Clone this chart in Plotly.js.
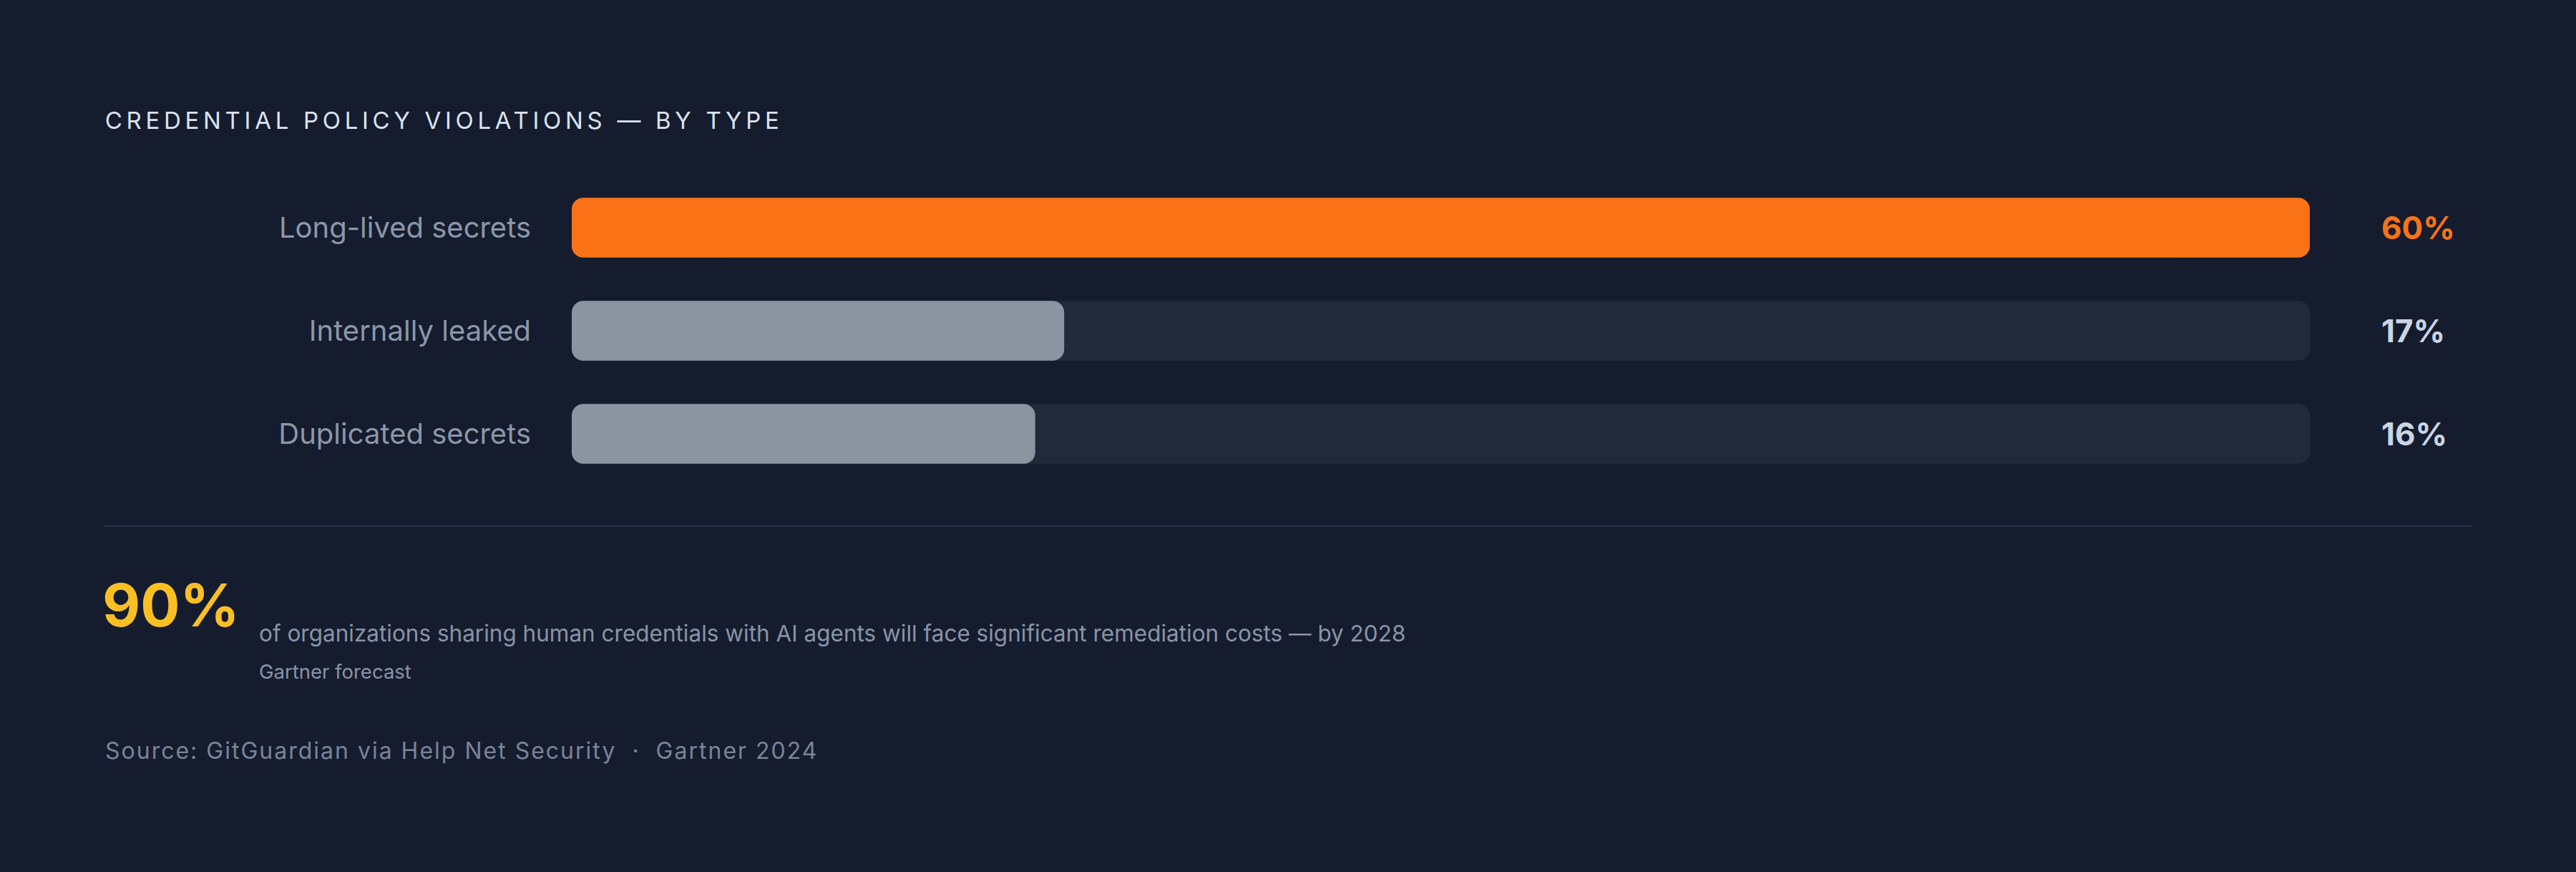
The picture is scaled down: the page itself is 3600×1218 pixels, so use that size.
<!DOCTYPE html>
<html>
<head>
<meta charset="utf-8">
<script src="https://cdn.plot.ly/plotly-3.0.1.min.js"></script>
<style>
  html, body { margin: 0; padding: 0; background: #141c2e; }
  #chart { width: 3600px; height: 1218px; }
  /* tracked caps for the title and the source line */
  .annotation[data-index="0"] text { letter-spacing: 5.7px; }
  .annotation[data-index="7"] text { letter-spacing: 2px; }
</style>
</head>
<body>
<div id="chart"></div>
<script>
var categories = ['Long-lived secrets', 'Internally leaked', 'Duplicated secrets'];
var shares = [60, 17, 16];
var valueLabels = ['60%', '17%', '16%'];
var barColors = ['#f97316', '#8b95a1', '#8b95a1'];
var labelColors = ['#f97316', '#cbd5e1', '#cbd5e1'];
var trackMax = 60;

var calloutValue = '90%';
var calloutText = 'of organizations sharing human credentials with AI agents will face significant remediation costs — by 2028';
var calloutNote = 'Gartner forecast';
var chartTitle = 'CREDENTIAL POLICY VIOLATIONS — BY TYPE';
var sourceText = 'Source: GitGuardian via Help Net Security  ·  Gartner 2024';

var W = 3600;
var H = 1218;
var font = 'Inter, "Noto Sans", sans-serif';

function px(x) { return x / W; }
function py(y) { return 1 - y / H; }

// an explicit base makes plotly round both ends of the bar
var zeroBase = categories.map(function () { return 0; });

var track = {
  type: 'bar',
  orientation: 'h',
  y: categories,
  x: categories.map(function () { return trackMax; }),
  base: zeroBase,
  width: 0.58,
  marker: { color: '#212a3b', cornerradius: 16 },
  hoverinfo: 'skip',
  showlegend: false
};

var values = {
  type: 'bar',
  orientation: 'h',
  y: categories,
  x: shares,
  base: zeroBase,
  width: 0.58,
  marker: { color: barColors, cornerradius: 16 },
  hoverinfo: 'skip',
  showlegend: false
};

var annotations = [
  {
    // x nudged right by half the extra width the css tracking adds
    text: chartTitle, xref: 'paper', yref: 'paper',
    x: px(145 + chartTitle.length * 5.7 / 2), y: py(168), xanchor: 'left', yanchor: 'middle', showarrow: false,
    font: { family: font, size: 33, color: '#dbe3ee' }
  }
];

categories.forEach(function (c, i) {
  annotations.push({
    text: '<b>' + valueLabels[i] + '</b>', xref: 'paper', yref: 'y',
    x: px(3326), y: c, xanchor: 'left', yanchor: 'middle', showarrow: false,
    font: { family: font, size: 44, color: labelColors[i] }
  });
});

annotations.push(
  {
    text: '<b>' + calloutValue + '</b>', xref: 'paper', yref: 'paper',
    x: px(141), y: py(897), xanchor: 'left', yanchor: 'bottom', showarrow: false,
    font: { family: font, size: 82, color: '#fbbf24' }
  },
  {
    text: calloutText, xref: 'paper', yref: 'paper',
    x: px(360), y: py(884), xanchor: 'left', yanchor: 'middle', showarrow: false,
    font: { family: font, size: 31.5, color: '#8a94a6' }
  },
  {
    text: calloutNote, xref: 'paper', yref: 'paper',
    x: px(360), y: py(938), xanchor: 'left', yanchor: 'middle', showarrow: false,
    font: { family: font, size: 27.5, color: '#8a94a6' }
  },
  {
    text: sourceText, xref: 'paper', yref: 'paper',
    x: px(145 + sourceText.length * 2 / 2), y: py(1048), xanchor: 'left', yanchor: 'middle', showarrow: false,
    font: { family: font, size: 32, color: '#7a8497' }
  }
);

var layout = {
  width: W,
  height: H,
  margin: { l: 0, r: 0, t: 0, b: 0, pad: 0 },
  paper_bgcolor: '#141c2e',
  plot_bgcolor: 'rgba(0,0,0,0)',
  barmode: 'overlay',
  font: { family: font },
  xaxis: {
    domain: [px(799), px(3228)],
    range: [0, trackMax],
    visible: false,
    fixedrange: true
  },
  yaxis: {
    domain: [py(678), py(246)],
    autorange: 'reversed',
    showgrid: false,
    zeroline: false,
    showline: false,
    ticks: '',
    ticklabelstandoff: 56,
    tickfont: { family: font, size: 40, color: '#8c97a8' },
    fixedrange: true
  },
  shapes: [
    {
      type: 'line', xref: 'paper', yref: 'paper',
      x0: px(145), x1: px(3455), y0: py(735), y1: py(735),
      line: { color: '#283246', width: 2 }
    }
  ],
  annotations: annotations
};

Plotly.newPlot('chart', [track, values], layout, { displayModeBar: false, staticPlot: true });
</script>
</body>
</html>
